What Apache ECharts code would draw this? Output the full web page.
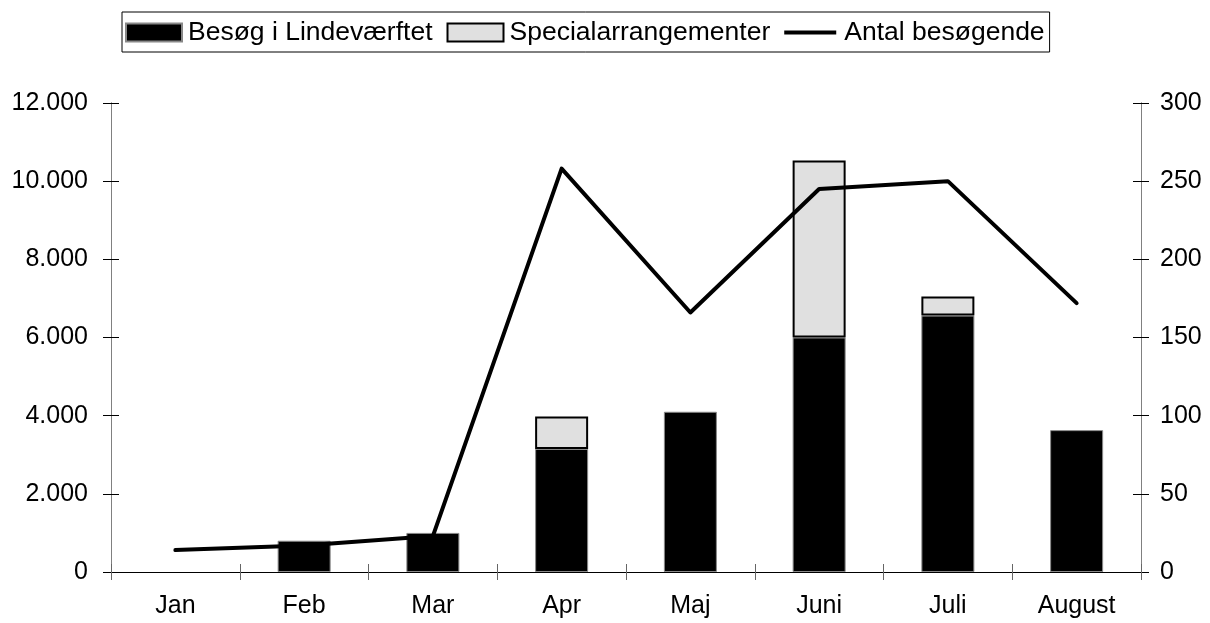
<!DOCTYPE html>
<html>
<head>
<meta charset="utf-8">
<script src="https://cdn.jsdelivr.net/npm/echarts@6/dist/echarts.min.js"></script>
<style>
  html, body { margin: 0; padding: 0; background: #fff; }
  #chart { width: 1210px; height: 623px; }
</style>
</head>
<body>
<div id="chart"></div>
<script>
  const months = ['Jan', 'Feb', 'Mar', 'Apr', 'Maj', 'Juni', 'Juli', 'August'];
  const lindevaerftet = [null, 800, 1000, 3150, 4100, 6000, 6560, 3630];
  const special = [null, null, null, 830, null, 4530, 490, null];
  const besoegende = [14, 17, 23, 258, 166, 245, 250, 172];

  const font = 'Liberation Sans, Arial, sans-serif';
  const fs = 25;
  const fmt = (v) => String(v).replace(/\B(?=(\d{3})+(?!\d))/g, '.');

  const chart = echarts.init(document.getElementById('chart'));

  // ticks in the picture cross the axis line, so every axis is drawn twice:
  // once with outside ticks and once with inside ticks
  const leftAxis = (inside) => ({
    type: 'value',
    position: 'left',
    min: 0,
    max: 12000,
    interval: 2000,
    splitLine: { show: false },
    axisLine: { show: true, lineStyle: { color: '#808080', width: 1 } },
    axisTick: { show: true, inside: inside, length: 8, lineStyle: { color: '#000' } },
    axisLabel: {
      show: !inside,
      formatter: fmt,
      color: '#000',
      fontSize: fs,
      fontFamily: font,
      margin: 23,
    },
  });

  const rightAxis = (inside) => ({
    type: 'value',
    position: 'right',
    min: 0,
    max: 300,
    interval: 50,
    splitLine: { show: false },
    axisLine: { show: true, lineStyle: { color: '#808080', width: 1 } },
    axisTick: { show: true, inside: inside, length: 8, lineStyle: { color: '#000' } },
    axisLabel: {
      show: !inside,
      color: '#000',
      fontSize: fs,
      fontFamily: font,
      margin: 19,
    },
  });

  const xAxis = (inside) => ({
    type: 'category',
    data: months,
    position: 'bottom',
    axisLine: { show: true, onZero: false, lineStyle: { color: '#000', width: 1 } },
    axisTick: { show: true, inside: inside, length: 8, lineStyle: { color: '#666' } },
    axisLabel: {
      show: !inside,
      color: '#000',
      fontSize: fs,
      fontFamily: font,
      margin: 22,
      interval: 0,
    },
  });

  // thin horizontal bar inside a taller box so it is not stretched to full height
  const lineIcon = 'path://M0,0L0,0M0,18L0,18M0,7L52,7L52,11L0,11Z';

  chart.setOption({
    animation: false,
    textStyle: { fontFamily: font },
    grid: { left: 111, right: 69, top: 103, bottom: 51, containLabel: false },
    legend: {
      left: 122,
      top: 12,
      padding: [7, 5, 6, 3],
      itemGap: 14,
      itemWidth: 56,
      itemHeight: 18,
      borderColor: '#000',
      borderWidth: 1,
      borderRadius: 0,
      textStyle: { color: '#000', fontSize: 26.5, fontFamily: font, padding: [0, 0, 0, 1] },
      data: [
        { name: 'Besøg i Lindeværftet', icon: 'rect' },
        { name: 'Specialarrangementer', icon: 'rect' },
        { name: 'Antal besøgende', icon: lineIcon },
      ],
    },
    xAxis: [xAxis(false), xAxis(true)],
    yAxis: [leftAxis(false), rightAxis(false), leftAxis(true), rightAxis(true)],
    series: [
      {
        name: 'Besøg i Lindeværftet',
        type: 'bar',
        stack: 'besog',
        data: lindevaerftet,
        barWidth: 53,
        itemStyle: { color: '#000', borderColor: '#888', borderWidth: 1 },
      },
      {
        name: 'Specialarrangementer',
        type: 'bar',
        stack: 'besog',
        data: special,
        barWidth: 53,
        itemStyle: { color: '#e0e0e0', borderColor: '#000', borderWidth: 2 },
      },
      {
        name: 'Antal besøgende',
        type: 'line',
        yAxisIndex: 1,
        data: besoegende,
        symbol: 'none',
        lineStyle: { color: '#000', width: 4, join: 'round', cap: 'round' },
        itemStyle: { color: '#000' },
        z: 5,
      },
    ],
  });
</script>
</body>
</html>
